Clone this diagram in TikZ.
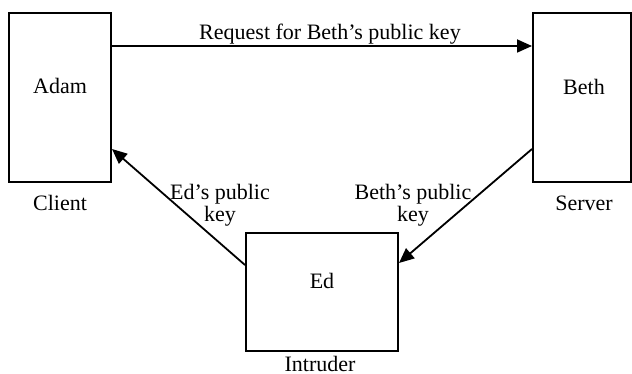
\documentclass[tikz,border=0pt]{standalone}
\usepackage{fontspec}
\setmainfont{Liberation Serif}
\usetikzlibrary{arrows.meta}

\begin{document}
\begin{tikzpicture}[
    x=0.5pt, y=-0.5pt,
    font=\fontsize{11}{9}\selectfont,
    box/.style={draw, line width=1pt, inner sep=0pt},
    arrow/.style={draw, line width=0.9pt, -{Triangle[length=7.5pt, width=6.5pt]}},
    msg/.style={align=center, inner sep=0pt},
]
\useasboundingbox (0,0) rectangle (632,374);

% Parties
\node[box, minimum width=51pt, minimum height=84.5pt] (adam) at (60,97.5) {};
\node[box, minimum width=49pt, minimum height=84.5pt] (beth) at (582,97.5) {};
\node[box, minimum width=76pt, minimum height=59pt] (ed) at (322,292) {};

\node (adamname) at (60,86) {Adam};
\node (bethname) at (584,87) {Beth};
\node (edname) at (322,281) {Ed};

% Roles
\node (client) at (60,203) {Client};
\node (server) at (584,203) {Server};
\node (intruder) at (320,364) {Intruder};

% Messages
\draw[arrow] ([yshift=-17pt]adam.north east) -- ([yshift=-17pt]beth.north west)
    node[midway, above, inner sep=0.2pt, xshift=4pt] (request) {Request for Beth's public key};
\draw[arrow] ([yshift=17pt]beth.south west) -- ([yshift=-15.5pt]ed.north east);
\draw[arrow] ([yshift=-16.5pt]ed.north west) -- ([yshift=17pt]adam.south east);

\node[msg] (bethkey) at (413,205) {Beth's public\\key};
\node[msg] (edkey) at (220,205) {Ed's public\\key};

\end{tikzpicture}
\end{document}
